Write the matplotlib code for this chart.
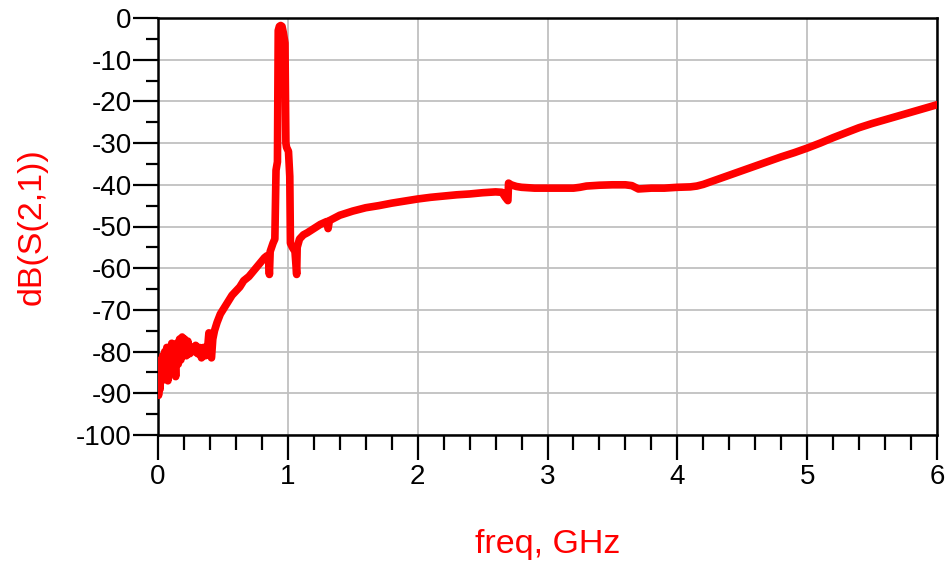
import matplotlib
matplotlib.use("Agg")
import matplotlib.pyplot as plt
from matplotlib.ticker import MultipleLocator

plt.rcParams['font.family'] = ['Liberation Sans', 'DejaVu Sans']
plt.rcParams['axes.unicode_minus'] = False

freq_ghz = [
    0.000, 0.004, 0.010, 0.016, 0.022, 0.030, 0.036, 0.044, 0.052, 0.060,
    0.068, 0.076, 0.086, 0.096, 0.106, 0.116, 0.126, 0.136, 0.146, 0.156,
    0.166, 0.176, 0.186, 0.196, 0.206, 0.218, 0.230, 0.245, 0.260, 0.275,
    0.290, 0.305, 0.320, 0.335, 0.350, 0.365, 0.380, 0.392, 0.402, 0.412,
    0.422, 0.435, 0.455, 0.480, 0.510, 0.540, 0.570, 0.600, 0.630, 0.660,
    0.700, 0.740, 0.780, 0.820, 0.840, 0.852, 0.858, 0.864, 0.886, 0.900,
    0.909, 0.920, 0.926, 0.935, 0.945, 0.955, 0.965, 0.978, 0.985, 0.990,
    1.005, 1.015, 1.020, 1.035, 1.055, 1.068, 1.072, 1.090, 1.120, 1.150,
    1.200, 1.250, 1.300, 1.310, 1.320, 1.400, 1.500, 1.600, 1.700, 1.800,
    1.900, 2.000, 2.100, 2.200, 2.300, 2.400, 2.500, 2.600, 2.650, 2.675,
    2.695, 2.700, 2.720, 2.760, 2.800, 2.900, 3.000, 3.100, 3.200, 3.250,
    3.300, 3.400, 3.500, 3.600, 3.650, 3.700, 3.800, 3.900, 4.000, 4.100,
    4.150, 4.200, 4.300, 4.400, 4.500, 4.600, 4.700, 4.800, 4.900, 5.000,
    5.100, 5.200, 5.300, 5.400, 5.500, 5.600, 5.700, 5.800, 5.900, 6.000,
]
s21_db = [
    -83.0, -90.5, -86.0, -89.0, -82.0, -87.0, -81.0, -86.0, -80.0, -85.0,
    -79.0, -87.0, -79.0, -84.0, -78.0, -85.0, -80.0, -86.0, -78.0, -83.0,
    -77.0, -82.0, -76.5, -80.0, -77.0, -81.0, -77.5, -80.5, -79.0, -80.0,
    -78.5, -80.5, -79.0, -81.5, -79.0, -81.0, -80.0, -75.5, -80.5, -81.5,
    -77.0, -75.0, -73.0, -71.0, -69.5, -68.0, -66.5, -65.5, -64.5, -63.0,
    -62.0, -60.5, -59.0, -57.5, -57.0, -58.0, -61.5, -56.0, -54.0, -53.0,
    -36.5, -34.5, -3.0, -2.0, -1.8, -2.0, -3.5, -6.0, -30.0, -31.0,
    -32.0, -38.0, -54.0, -55.0, -56.0, -61.5, -55.0, -53.0, -52.0, -51.5,
    -50.5, -49.5, -48.8, -50.5, -48.6, -47.3, -46.3, -45.5, -45.0, -44.4,
    -43.9, -43.4, -43.0, -42.7, -42.4, -42.2, -41.9, -41.7, -41.8, -43.0,
    -43.8, -39.6, -40.0, -40.4, -40.6, -40.8, -40.8, -40.8, -40.8, -40.6,
    -40.3, -40.1, -40.0, -40.0, -40.2, -41.0, -40.8, -40.8, -40.6, -40.5,
    -40.3, -39.9, -38.8, -37.7, -36.6, -35.5, -34.4, -33.3, -32.3, -31.2,
    -30.0, -28.7, -27.5, -26.3, -25.3, -24.4, -23.5, -22.6, -21.7, -20.8,
]

x_ticks = [0, 1, 2, 3, 4, 5, 6]
x_tick_labels = ["0", "1", "2", "3", "4", "5", "6"]
y_ticks = [0, -10, -20, -30, -40, -50, -60, -70, -80, -90, -100]
y_tick_labels = ["0", "-10", "-20", "-30", "-40", "-50", "-60", "-70", "-80", "-90", "-100"]

fig = plt.figure(figsize=(9.46, 5.64), dpi=100)
ax = fig.add_axes([158 / 946, 1 - 435 / 564, (937 - 158) / 946, (435 - 18) / 564])

ax.plot(freq_ghz, s21_db, color="#ff0000", lw=5.5, solid_joinstyle="round",
        solid_capstyle="round", zorder=3, clip_on=True)

ax.set_xlim(0, 6)
ax.set_ylim(-100, 0)
ax.set_xticks(x_ticks)
ax.set_xticklabels(x_tick_labels)
ax.set_yticks(y_ticks)
ax.set_yticklabels(y_tick_labels)
ax.xaxis.set_minor_locator(MultipleLocator(0.2))
ax.yaxis.set_minor_locator(MultipleLocator(5))

ax.grid(True, which="major", color="#c0c0c0", lw=1.3, zorder=0)
ax.set_axisbelow(True)
for s in ax.spines.values():
    s.set_color("black")
    s.set_linewidth(1.8)

ax.tick_params(axis="both", which="major", direction="out", length=18, width=1.6,
               labelsize=20, colors="black")
ax.tick_params(axis="x", which="major", pad=3)
ax.tick_params(axis="y", which="major", pad=1)
ax.tick_params(axis="x", which="minor", direction="out", length=11, width=1.6)
ax.tick_params(axis="y", which="minor", direction="out", length=8.5, width=1.6)

ax.set_xlabel("freq, GHz", color="#ff0000", fontsize=24.5)
ax.set_ylabel("dB(S(2,1))", color="#ff0000", fontsize=24.5)
ax.xaxis.set_label_coords(0.5, -0.225)
ax.yaxis.set_label_coords(-0.142, 0.5)

fig.savefig("out.png", dpi=100)
